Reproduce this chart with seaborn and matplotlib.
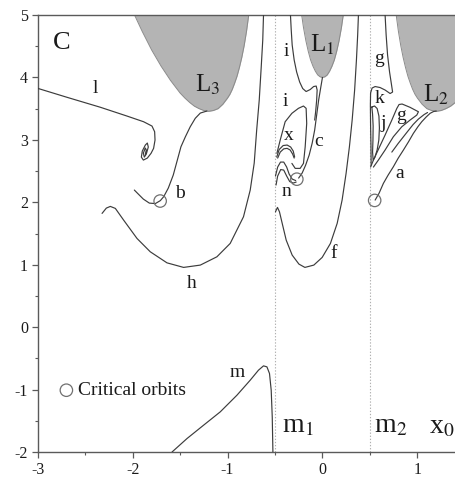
import matplotlib
matplotlib.use("Agg")
import matplotlib.pyplot as plt
from matplotlib.ticker import MultipleLocator
import seaborn as sns

sns.set_theme(style="white")
plt.rcParams["font.family"] = ["Liberation Serif", "DejaVu Serif"]
plt.rcParams["mathtext.fontset"] = "stix"
plt.rcParams["axes.unicode_minus"] = False

# ---- forbidden (grey) regions: zero-velocity boundary C(x0) ----
lobe_l3_x = [-1.98, -1.9, -1.85, -1.8, -1.75, -1.7, -1.6, -1.5, -1.45, -1.4, -1.35, -1.3, -1.25,
             -1.2, -1.15, -1.1, -1.05, -1.0, -0.975, -0.95, -0.925, -0.9, -0.875, -0.85, -0.825,
             -0.8, -0.777]
lobe_l3_c = [5.0, 4.74, 4.59, 4.44, 4.31, 4.18, 3.95, 3.75, 3.67, 3.60, 3.54, 3.50, 3.47,
             3.457, 3.47, 3.50, 3.57, 3.67, 3.73, 3.81, 3.91, 4.02, 4.16, 4.32, 4.51,
             4.74, 5.0]
lobe_l1_x = [-0.219, -0.2, -0.175, -0.15, -0.125, -0.1, -0.075, -0.05, -0.025, 0.0,
             0.025, 0.05, 0.075, 0.1, 0.125, 0.15, 0.175, 0.2, 0.219]
lobe_l1_c = [5.0, 4.80, 4.59, 4.42, 4.28, 4.18, 4.10, 4.04, 4.01, 4.0,
             4.01, 4.04, 4.10, 4.18, 4.28, 4.42, 4.59, 4.80, 5.0]
lobe_l2_x = [0.777, 0.8, 0.825, 0.85, 0.875, 0.9, 0.925, 0.95, 0.975, 1.0, 1.05, 1.1, 1.15,
             1.2, 1.25, 1.3, 1.35, 1.4, 1.45, 1.5, 1.6, 1.7, 1.75, 1.8, 1.85, 1.9, 1.98]
lobe_l2_c = [5.0, 4.74, 4.51, 4.32, 4.16, 4.02, 3.91, 3.81, 3.73, 3.67, 3.57, 3.50, 3.47,
             3.457, 3.47, 3.50, 3.54, 3.60, 3.67, 3.75, 3.95, 4.18, 4.31, 4.44, 4.59, 4.74, 5.0]

# ---- families of periodic orbits (x0, C) ----
fam_l_x = [-3.0, -2.69, -2.34, -2.059, -1.884, -1.796, -1.768, -1.764, -1.779, -1.806,
           -1.845, -1.887, -1.908, -1.898, -1.866, -1.845, -1.835, -1.856, -1.877, -1.887,
           -1.866, -1.856, -1.866]
fam_l_c = [3.825, 3.681, 3.522, 3.381, 3.29, 3.221, 3.13, 2.997, 2.864, 2.784,
           2.708, 2.676, 2.724, 2.821, 2.917, 2.949, 2.885, 2.772, 2.724, 2.788,
           2.869, 2.837, 2.772]

fam_b_x = [-1.217, -1.287, -1.340, -1.393, -1.444, -1.491, -1.529, -1.572, -1.624, -1.672,
           -1.708, -1.761, -1.824, -1.887, -1.945, -1.982]
fam_b_c = [3.462, 3.429, 3.345, 3.210, 3.050, 2.889, 2.676, 2.436, 2.228, 2.091,
           2.027, 1.979, 1.987, 2.051, 2.139, 2.196]

fam_h_x = [-2.322, -2.277, -2.235, -2.182, -2.095, -1.954, -1.814, -1.638, -1.463, -1.287,
           -1.112, -0.972, -0.832, -0.761, -0.719, -0.693, -0.666, -0.645, -0.629, -0.621]
fam_h_c = [1.822, 1.907, 1.934, 1.902, 1.715, 1.421, 1.207, 1.030, 0.957, 0.994,
           1.127, 1.341, 1.768, 2.196, 2.628, 3.157, 3.638, 4.171, 4.599, 5.0]

fam_f_x = [-0.495, -0.474, -0.453, -0.424, -0.382, -0.319, -0.248, -0.185, -0.091, -0.003,
           0.084, 0.155, 0.207, 0.249, 0.284, 0.313, 0.339, 0.358, 0.371, 0.379]
fam_f_c = [1.848, 1.918, 1.848, 1.662, 1.394, 1.154, 1.010, 0.957, 0.994, 1.117,
           1.341, 1.662, 2.035, 2.463, 2.889, 3.317, 3.798, 4.279, 4.679, 5.0]

fam_i_up_x = [-0.337, -0.329, -0.319, -0.298, -0.272, -0.240, -0.208, -0.172, -0.129, -0.093,
              -0.066, -0.056, -0.061, -0.072, -0.082]
fam_i_up_c = [5.0, 4.760, 4.519, 4.279, 4.087, 3.926, 3.822, 3.774, 3.806, 3.854,
              3.862, 3.798, 3.638, 3.446, 3.317]

fam_c_x = [0.0, -0.019, -0.040, -0.061, -0.082, -0.108, -0.140, -0.177, -0.214, -0.251]
fam_c_c = [4.0, 3.830, 3.638, 3.397, 3.157, 2.949, 2.756, 2.596, 2.468, 2.388]

fam_i_lo_x = [-0.480, -0.445, -0.393, -0.322, -0.253, -0.200, -0.172, -0.166, -0.182, -0.200,
              -0.235, -0.287, -0.322]
fam_i_lo_c = [2.784, 2.997, 3.290, 3.425, 3.505, 3.542, 3.505, 3.264, 2.889, 2.623,
              2.543, 2.543, 2.623]

fam_x_out_x = [-0.482, -0.456, -0.414, -0.372, -0.335, -0.308, -0.293]
fam_x_out_c = [2.724, 2.845, 2.909, 2.917, 2.885, 2.821, 2.724]
fam_x_in_x = [-0.472, -0.445, -0.408, -0.372, -0.340, -0.314, -0.298]
fam_x_in_c = [2.708, 2.804, 2.856, 2.864, 2.837, 2.772, 2.708]

fam_n1_x = [-0.495, -0.472, -0.442, -0.408, -0.377, -0.351, -0.319, -0.282]
fam_n1_c = [2.420, 2.564, 2.644, 2.644, 2.564, 2.452, 2.372, 2.348]
fam_n2_x = [-0.489, -0.472, -0.440, -0.408, -0.377, -0.345, -0.308, -0.277]
fam_n2_c = [2.276, 2.420, 2.524, 2.516, 2.420, 2.332, 2.308, 2.324]

fam_g_up_x = [0.660, 0.671, 0.686, 0.707, 0.728, 0.739, 0.713, 0.660, 0.607, 0.555, 0.523, 0.507]
fam_g_up_c = [5.0, 4.679, 4.359, 4.087, 3.878, 3.766, 3.742, 3.798, 3.838, 3.854, 3.830, 3.750]

fam_k_x = [0.507, 0.505, 0.507, 0.511, 0.513]
fam_k_c = [3.750, 3.558, 3.237, 2.917, 2.596]

fam_j_x = [0.520, 0.549, 0.576, 0.595, 0.600, 0.594, 0.576, 0.553, 0.534, 0.528,
           0.532, 0.534, 0.528, 0.520]
fam_j_c = [3.526, 3.542, 3.502, 3.381, 3.189, 2.997, 2.837, 2.724, 2.676, 2.804,
           2.997, 3.221, 3.413, 3.526]

fam_g_lo_x = [0.507, 0.537, 0.586, 0.660, 0.731, 0.783, 0.807, 0.839, 0.923, 1.011,
              0.994, 0.923, 0.836, 0.747, 0.660, 0.589, 0.537]
fam_g_lo_c = [2.564, 2.676, 2.837, 3.077, 3.317, 3.502, 3.566, 3.574, 3.521, 3.450,
              3.397, 3.317, 3.210, 3.050, 2.837, 2.676, 2.564]

fam_a_x = [0.555, 0.597, 0.642, 0.692, 0.747, 0.797, 0.853, 0.907, 0.958, 1.007,
           1.046, 1.092, 1.134, 1.171, 1.199]
fam_a_c = [2.035, 2.147, 2.303, 2.436, 2.569, 2.704, 2.837, 2.970, 3.104, 3.213,
           3.290, 3.365, 3.425, 3.454, 3.462]
fam_a2_x = [0.731, 0.797, 0.888, 0.955, 1.011, 1.071, 1.107]
fam_a2_c = [2.804, 2.941, 3.117, 3.245, 3.333, 3.405, 3.438]

fam_m_x = [-1.585, -1.427, -1.253, -1.077, -0.901, -0.761, -0.674, -0.621, -0.585, -0.558,
           -0.540, -0.529, -0.522]
fam_m_c = [-2.0, -1.784, -1.571, -1.357, -1.090, -0.849, -0.689, -0.620, -0.636, -0.742,
           -1.010, -1.438, -2.0]

# critical orbits
crit_x = [-1.71, -0.27, 0.55]
crit_c = [2.02, 2.37, 2.03]

# primaries
primary_x = [-0.5, 0.5]

LINE = "#3c3c3c"
GREY_FILL = "#b4b4b4"
GREY_EDGE = "#8a8a8a"
SPINE = "#5a5a5a"

fig = plt.figure(figsize=(4.56, 4.82), dpi=100)
ax = fig.add_axes([0.0827, 0.0622, 1 - 0.0827, 0.9689 - 0.0622])

# forbidden regions
for lx, lc in [(lobe_l3_x, lobe_l3_c), (lobe_l1_x, lobe_l1_c), (lobe_l2_x, lobe_l2_c)]:
    ax.fill_between(lx, lc, 5.0, color=GREY_FILL, lw=0, zorder=1)
    sns.lineplot(x=lx, y=lc, sort=False, estimator=None, color=GREY_EDGE, lw=0.7, ax=ax, zorder=2)

# primaries
for px in primary_x:
    ax.axvline(px, color="#b0b0b0", lw=0.8, ls=(0, (1.2, 1.6)), zorder=1)

families = [
    (fam_l_x, fam_l_c), (fam_b_x, fam_b_c), (fam_h_x, fam_h_c), (fam_f_x, fam_f_c),
    (fam_i_up_x, fam_i_up_c), (fam_c_x, fam_c_c), (fam_i_lo_x, fam_i_lo_c),
    (fam_x_out_x, fam_x_out_c), (fam_x_in_x, fam_x_in_c),
    (fam_n1_x, fam_n1_c), (fam_n2_x, fam_n2_c),
    (fam_g_up_x, fam_g_up_c), (fam_k_x, fam_k_c), (fam_j_x, fam_j_c),
    (fam_g_lo_x, fam_g_lo_c), (fam_a_x, fam_a_c), (fam_a2_x, fam_a2_c),
    (fam_m_x, fam_m_c),
]
for fx, fc in families:
    sns.lineplot(x=fx, y=fc, sort=False, estimator=None, color=LINE, lw=0.85, ax=ax, zorder=3)

ax.scatter(crit_x, crit_c, s=80, facecolors="none", edgecolors="#707070", linewidths=0.9, zorder=4)

# axes styling
ax.set_xlim(-3, 1.407)
ax.set_ylim(-2, 5)
ax.set_xlabel("")
ax.set_ylabel("")
ax.xaxis.set_major_locator(MultipleLocator(1))
ax.xaxis.set_minor_locator(MultipleLocator(0.5))
ax.yaxis.set_major_locator(MultipleLocator(1))
ax.yaxis.set_minor_locator(MultipleLocator(0.5))
ax.tick_params(which="major", direction="out", length=4.5, width=0.9, color=SPINE,
               labelsize=11.5, labelcolor="#1a1a1a", pad=2.5)
ax.tick_params(which="minor", direction="out", length=2.4, width=0.8, color=SPINE)
ax.tick_params(axis="x", which="both", bottom=True, top=False)
ax.tick_params(axis="y", which="both", left=True, right=False)
ax.spines["right"].set_visible(False)
for s in ["left", "bottom", "top"]:
    ax.spines[s].set_color(SPINE)
    ax.spines[s].set_linewidth(1.0)

TXT = "#1a1a1a"
ax.text(-2.75, 4.55, "C", fontsize=19, ha="center", va="center", color=TXT)
labels = [
    ("l", -2.393, 3.83), ("b", -1.498, 2.147), ("h", -1.375, 0.705),
    ("i", -0.382, 4.412), ("i", -0.393, 3.611), ("x", -0.358, 3.077),
    ("c", -0.042, 2.97), ("n", -0.375, 2.168), ("f", 0.116, 1.181),
    ("g", 0.597, 4.306), ("k", 0.600, 3.665), ("j", 0.636, 3.264),
    ("g", 0.825, 3.397), ("a", 0.811, 2.463), ("m", -0.893, -0.729),
]
for t, lx, ly in labels:
    ax.text(lx, ly, t, fontsize=14, ha="center", va="center", color=TXT)

ax.text(-1.347, 3.771, r"L$_3$", fontsize=18, ha="left", va="baseline", color=TXT)
ax.text(-0.126, 4.412, r"L$_1$", fontsize=18, ha="left", va="baseline", color=TXT)
ax.text(1.063, 3.611, r"L$_2$", fontsize=18, ha="left", va="baseline", color=TXT)
ax.text(-0.427, -1.678, r"m$_1$", fontsize=20, ha="left", va="baseline", color=TXT)
ax.text(0.544, -1.678, r"m$_2$", fontsize=20, ha="left", va="baseline", color=TXT)
ax.text(1.126, -1.70, r"x$_0$", fontsize=20, ha="left", va="baseline", color=TXT)

# legend for critical orbits
ax.scatter([-2.698], [-1.01], s=80, facecolors="none", edgecolors="#707070", linewidths=0.9, zorder=4)
ax.text(-2.58, -1.01, "Critical orbits", fontsize=14, ha="left", va="center", color=TXT)

fig.savefig("out.png", dpi=100)
